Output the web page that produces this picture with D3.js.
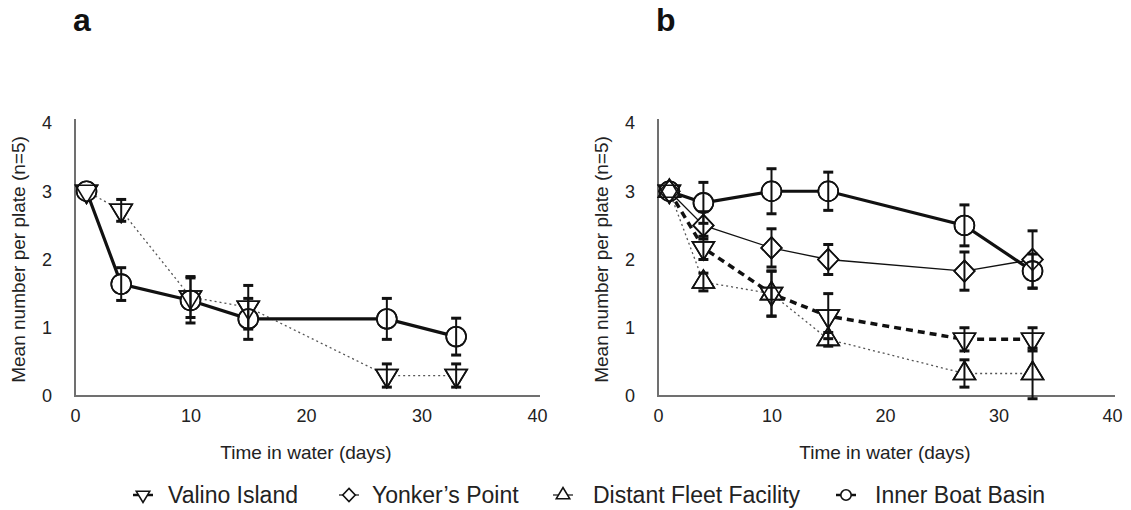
<!DOCTYPE html>
<meta charset="utf-8">
<style>
body { margin: 0; background: #fff; }
svg { font-family: "Liberation Sans", Arial, Helvetica, sans-serif; }
.axis path { stroke: #707070; stroke-width: 2px; }
.axis text { font-size: 18px; fill: #222; }
.title { font-size: 19px; fill: #222; }
.letter { font-size: 32px; font-weight: bold; fill: #111; }
.legend text { font-size: 23px; fill: #222; }
.err { stroke: #111; stroke-width: 2px; fill: none; }
.mark { fill: #fff; stroke: #111; stroke-width: 1.6px; }
.outline { fill: none; stroke: #111; stroke-width: 1.6px; }
</style>
<svg width="1131" height="510"></svg>
<script src="https://cdn.jsdelivr.net/npm/d3@7"></script>
<script>
// sampling days
var days = [1, 4, 10, 15, 27, 33];

// panel a
var valinoA    = [3.0, 2.72, 1.45, 1.3, 0.3, 0.3];
var valinoAErr = [0, 0.16, 0.3, 0.32, 0.17, 0.17];
var innerA     = [3.0, 1.64, 1.4, 1.13, 1.13, 0.87];
var innerAErr  = [0, 0.24, 0.33, 0.3, 0.3, 0.27];

// panel b
var valinoB     = [3.0, 2.17, 1.5, 1.17, 0.83, 0.83];
var valinoBErr  = [0, 0.17, 0.33, 0.33, 0.17, 0.17];
var yonkerB     = [3.0, 2.5, 2.17, 2.0, 1.83, 2.0];
var yonkerBErr  = [0, 0.2, 0.28, 0.22, 0.28, 0.42];
var distantB    = [3.0, 1.67, 1.5, 0.83, 0.33, 0.33];
var distantBErr = [0, 0.13, 0.33, 0.1, 0.2, 0.37];
var innerB      = [3.0, 2.83, 3.0, 3.0, 2.5, 1.83];
var innerBErr   = [0, 0.3, 0.33, 0.28, 0.3, 0.25];

var xTicks = [0, 10, 20, 30, 40];
var yTicks = [0, 1, 2, 3, 4];
var legendNames = ["Valino Island", "Yonker\u2019s Point", "Distant Fleet Facility", "Inner Boat Basin"];

var svg = d3.select("svg");

// marker shapes
var shapes = {
  down: { draw: function(c, s) { var r = Math.sqrt(s) * 0.75;
    c.moveTo(-r, -r * 0.55); c.lineTo(r, -r * 0.55); c.lineTo(0, r * 1.1); c.closePath(); } },
  up: { draw: function(c, s) { var r = Math.sqrt(s) * 0.75;
    c.moveTo(-r, r * 0.55); c.lineTo(r, r * 0.55); c.lineTo(0, -r * 1.1); c.closePath(); } },
  diamond: { draw: function(c, s) { var r = Math.sqrt(s) * 0.7;
    c.moveTo(0, -r * 1.05); c.lineTo(r, 0); c.lineTo(0, r * 1.05); c.lineTo(-r, 0); c.closePath(); } },
  circle: d3.symbolCircle
};

var styles = {
  valinoDot:  { shape: "down", width: 1.3, dash: "2,3", color: "#555" },
  valinoDash: { shape: "down", width: 3.5, dash: "7,5", color: "#111" },
  yonker:     { shape: "diamond", width: 1.3, dash: null, color: "#111" },
  distant:    { shape: "up", width: 1.3, dash: "2,3", color: "#555" },
  inner:      { shape: "circle", width: 3.2, dash: null, color: "#111" }
};

var panels = [
  { letter: "a", left: 75, right: 537, series: [
    { style: "valinoDot", v: valinoA, e: valinoAErr },
    { style: "inner", v: innerA, e: innerAErr } ] },
  { letter: "b", left: 658, right: 1112, series: [
    { style: "distant", v: distantB, e: distantBErr },
    { style: "valinoDash", v: valinoB, e: valinoBErr },
    { style: "yonker", v: yonkerB, e: yonkerBErr },
    { style: "inner", v: innerB, e: innerBErr } ] }
];

var yTop = 123, yBot = 396;

panels.forEach(function(p) {
  var x = d3.scaleLinear().domain([0, 40]).range([p.left, p.right]);
  var y = d3.scaleLinear().domain([0, 4]).range([yBot, yTop]);
  var g = svg.append("g");

  g.append("text").attr("class", "letter")
      .attr("x", p.left - 2).attr("y", 31).text(p.letter);

  g.append("g").attr("class", "axis")
      .attr("transform", "translate(0," + yBot + ")")
      .call(d3.axisBottom(x).tickValues(xTicks).tickSize(0).tickSizeOuter(0).tickPadding(13))
      .call(function(a) { a.select(".domain").attr("d", "M" + (p.left - 1) + ",0H" + (p.right + 3)); });

  g.append("g").attr("class", "axis")
      .attr("transform", "translate(" + p.left + ",0)")
      .call(d3.axisLeft(y).tickValues(yTicks).tickFormat(d3.format("d"))
          .tickSize(0).tickSizeOuter(0).tickPadding(23))
      .call(function(a) { a.select(".domain").attr("d", "M0," + (yTop - 4) + "V" + (yBot + 1)); });

  g.append("text").attr("class", "title")
      .attr("x", (p.left + p.right) / 2).attr("y", 459)
      .attr("text-anchor", "middle").text("Time in water (days)");

  g.append("text").attr("class", "title")
      .attr("transform", "translate(" + (p.left - 57) + "," + ((yTop + yBot) / 2) + ") rotate(-90)")
      .attr("dy", "0.35em")
      .attr("text-anchor", "middle").text("Mean number per plate (n=5)");

  var line = d3.line()
      .x(function(d, i) { return x(days[i]); })
      .y(function(d) { return y(d); });

  p.series.forEach(function(s) {
    var st = styles[s.style];
    g.append("path").datum(s.v)
        .attr("d", line)
        .attr("fill", "none")
        .attr("stroke", st.color)
        .attr("stroke-width", st.width)
        .attr("stroke-dasharray", st.dash);
  });

  // white marker bodies hide the lines, outlines go on top so overlaps stay visible
  ["mark", "outline"].forEach(function(cls) {
    p.series.forEach(function(s) {
      var st = styles[s.style];
      var sym = d3.symbol().type(shapes[st.shape]).size(st.shape === "circle" ? 310 : 215);
      g.append("g").selectAll("path").data(s.v).join("path")
          .attr("class", cls)
          .attr("transform", function(d, i) { return "translate(" + x(days[i]) + "," + y(d) + ")"; })
          .attr("d", sym);
    });
  });

  p.series.forEach(function(s) {
    var eb = g.append("g").selectAll("g").data(s.v.map(function(d, i) { return { d: d, e: s.e[i], day: days[i] }; })
        .filter(function(o) { return o.e > 0; })).join("g").attr("class", "err");
    eb.append("line")
        .attr("x1", function(o) { return x(o.day); }).attr("x2", function(o) { return x(o.day); })
        .attr("y1", function(o) { return y(o.d - o.e); }).attr("y2", function(o) { return y(o.d + o.e); });
    [1, -1].forEach(function(sg) {
      eb.append("line").attr("stroke-width", 3)
          .attr("x1", function(o) { return x(o.day) - 5; }).attr("x2", function(o) { return x(o.day) + 5; })
          .attr("y1", function(o) { return y(o.d + sg * o.e); }).attr("y2", function(o) { return y(o.d + sg * o.e); });
    });
  });
});

// legend
var legendStyles = ["valinoDash", "yonker", "distant", "inner"];
var legendX = [143, 349, 563, 846];
var legendTextX = [168, 372, 593, 875];
var lg = svg.append("g").attr("class", "legend");
legendStyles.forEach(function(k, i) {
  var st = styles[k];
  var it = lg.append("g").attr("transform", "translate(" + legendX[i] + ",495)");
  it.append("line").attr("x1", -10).attr("x2", 10)
      .attr("stroke", "#111").attr("stroke-width", st.width > 2 ? 2.5 : 1.2);
  it.append("path").attr("class", "mark").attr("stroke-width", 1.3)
      .attr("d", d3.symbol().type(shapes[st.shape]).size(st.shape === "circle" ? 85 : 80));
  it.append("text").attr("x", legendTextX[i] - legendX[i]).attr("dy", "0.36em").text(legendNames[i]);
});
</script>
